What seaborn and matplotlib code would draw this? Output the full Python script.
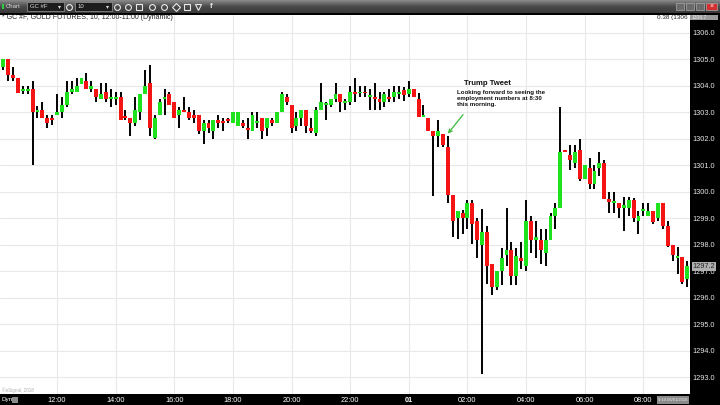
import numpy as np
import pandas as pd
import matplotlib
matplotlib.use("Agg")
import matplotlib.pyplot as plt
import matplotlib.transforms as mtransforms
from matplotlib.colors import LinearSegmentedColormap
from matplotlib.patches import Rectangle
import seaborn as sns

# 10-minute GC #F bars, 10:10 -> 09:30 next day
opens = [
    1304.7, 1305.0, 1304.41, 1304.31, 1303.82, 1303.82, 1303.89, 1303.0, 1303.1, 1302.81,
    1302.8, 1302.9, 1303.0, 1303.29, 1303.79, 1303.79, 1304.07, 1304.19, 1303.89, 1303.89,
    1303.5, 1303.79, 1303.5, 1303.5, 1303.6, 1302.82, 1302.81, 1302.6, 1303.0, 1303.7,
    1304.1, 1302.04, 1302.9, 1303.5, 1303.7, 1303.39, 1302.9, 1303.1, 1303.0, 1302.9,
    1302.9, 1302.31, 1302.6, 1302.31, 1302.7, 1302.62, 1302.7, 1302.6, 1302.5, 1302.6,
    1302.41, 1302.31, 1302.6, 1302.8, 1302.41, 1302.7, 1302.6, 1303.0, 1303.6, 1303.29,
    1302.5, 1302.8, 1303.1, 1302.4, 1302.22, 1303.1, 1303.3, 1303.29, 1303.5, 1303.7,
    1303.35, 1303.39, 1303.79, 1303.72, 1303.74, 1303.6, 1303.6, 1303.5, 1303.39, 1303.57,
    1303.6, 1303.7, 1303.85, 1303.69, 1303.87, 1303.5, 1302.82, 1302.79, 1302.31, 1302.12,
    1302.2, 1301.7, 1299.9, 1299.0, 1299.19, 1299.0, 1299.6, 1298.91, 1298.01, 1298.5,
    1297.29, 1296.41, 1297.0, 1297.62, 1297.81, 1296.83, 1297.5, 1297.2, 1298.91, 1298.2,
    1298.2, 1297.7, 1298.2, 1299.1, 1299.41, 1301.6, 1301.4, 1301.1, 1301.6, 1300.5,
    1300.91, 1300.31, 1300.91, 1301.1, 1299.72, 1299.6, 1299.6, 1299.41, 1299.41, 1299.69,
    1298.91, 1299.28, 1299.1, 1299.29, 1299.0, 1299.6, 1298.7, 1298.0, 1297.5, 1297.54,
    1296.7,
]
highs = [
    1305.0, 1305.0, 1304.7, 1304.31, 1304.0, 1304.0, 1304.2, 1303.25, 1303.39, 1302.9,
    1302.9, 1303.7, 1303.57, 1304.19, 1304.19, 1304.29, 1304.29, 1304.5, 1304.19, 1303.89,
    1304.1, 1304.1, 1303.89, 1303.79, 1303.79, 1303.1, 1302.81, 1303.6, 1303.7, 1304.6,
    1304.79, 1302.9, 1303.5, 1303.89, 1303.79, 1303.39, 1303.2, 1303.6, 1303.2, 1303.1,
    1302.9, 1302.7, 1302.7, 1302.7, 1302.9, 1302.8, 1302.8, 1303.0, 1303.0, 1302.7,
    1302.79, 1303.0, 1303.0, 1302.8, 1302.8, 1302.8, 1303.0, 1303.79, 1303.7, 1303.29,
    1303.0, 1303.1, 1303.1, 1302.8, 1303.2, 1304.1, 1303.39, 1303.5, 1304.1, 1303.7,
    1303.5, 1304.0, 1304.29, 1304.0, 1304.0, 1303.89, 1304.1, 1303.79, 1303.79, 1303.89,
    1304.0, 1304.0, 1303.95, 1304.2, 1303.9, 1303.72, 1303.29, 1302.79, 1302.31, 1302.7,
    1302.2, 1302.1, 1299.9, 1299.29, 1299.32, 1299.7, 1299.7, 1299.0, 1299.37, 1298.7,
    1297.29, 1297.0, 1297.9, 1299.4, 1298.1, 1297.9, 1298.1, 1299.7, 1299.1, 1298.91,
    1298.6, 1298.6, 1299.2, 1299.6, 1303.2, 1301.6, 1301.79, 1301.79, 1302.0, 1301.0,
    1301.29, 1301.0, 1301.5, 1301.2, 1300.0, 1300.0, 1299.6, 1299.81, 1299.81, 1299.79,
    1299.29, 1299.6, 1299.6, 1299.29, 1299.6, 1299.6, 1298.91, 1298.0, 1297.91, 1297.54,
    1297.41,
]
lows = [
    1304.62, 1304.2, 1304.2, 1303.72, 1303.7, 1303.7, 1301.0, 1302.81, 1302.81, 1302.41,
    1302.51, 1302.9, 1302.81, 1303.2, 1303.7, 1303.79, 1304.07, 1303.89, 1303.79, 1303.39,
    1303.5, 1303.39, 1303.2, 1303.29, 1302.7, 1302.7, 1302.1, 1302.5, 1302.7, 1303.7,
    1302.1, 1302.0, 1302.9, 1302.9, 1303.29, 1302.8, 1302.41, 1303.0, 1302.7, 1302.6,
    1302.2, 1301.81, 1302.22, 1302.0, 1302.41, 1302.31, 1302.6, 1302.6, 1302.5, 1302.41,
    1302.0, 1302.31, 1302.4, 1302.0, 1302.1, 1302.5, 1302.6, 1303.0, 1303.29, 1302.22,
    1302.31, 1302.5, 1302.22, 1302.22, 1302.1, 1303.1, 1302.7, 1303.2, 1303.39, 1303.0,
    1303.1, 1303.29, 1303.39, 1303.6, 1303.6, 1303.1, 1303.1, 1303.1, 1303.2, 1303.39,
    1303.39, 1303.5, 1303.45, 1303.6, 1303.6, 1302.82, 1302.82, 1302.29, 1299.86, 1301.7,
    1301.7, 1299.6, 1298.3, 1298.22, 1298.41, 1298.6, 1298.04, 1297.51, 1293.12, 1296.54,
    1296.12, 1296.32, 1296.5, 1297.2, 1296.5, 1296.5, 1297.1, 1297.0, 1297.7, 1297.5,
    1297.3, 1297.2, 1298.2, 1298.6, 1299.41, 1301.5, 1300.83, 1300.91, 1300.41, 1300.5,
    1300.12, 1300.12, 1300.62, 1299.72, 1299.22, 1299.22, 1299.0, 1298.54, 1299.1, 1298.85,
    1298.41, 1299.1, 1299.1, 1298.79, 1298.91, 1298.6, 1297.91, 1297.41, 1296.91, 1296.54,
    1296.41,
]
closes = [
    1305.0, 1304.41, 1304.31, 1303.72, 1303.89, 1303.89, 1303.0, 1303.1, 1302.81, 1302.62,
    1302.7, 1303.0, 1303.29, 1303.79, 1303.89, 1304.0, 1304.29, 1303.89, 1304.0, 1303.6,
    1303.7, 1303.5, 1303.57, 1303.57, 1302.72, 1302.8, 1302.6, 1303.1, 1303.7, 1304.0,
    1302.41, 1302.79, 1303.39, 1303.6, 1303.29, 1302.8, 1303.1, 1303.0, 1302.8, 1302.8,
    1302.31, 1302.6, 1302.41, 1302.7, 1302.6, 1302.6, 1302.68, 1303.0, 1303.0, 1302.5,
    1302.35, 1302.9, 1302.62, 1302.31, 1302.8, 1302.6, 1303.0, 1303.7, 1303.39, 1302.41,
    1302.8, 1303.1, 1302.5, 1302.31, 1303.1, 1303.39, 1303.32, 1303.5, 1303.7, 1303.39,
    1303.38, 1303.79, 1303.7, 1303.74, 1303.72, 1303.62, 1303.5, 1303.39, 1303.7, 1303.5,
    1303.79, 1303.79, 1303.65, 1303.87, 1303.6, 1302.82, 1302.91, 1302.29, 1302.12, 1302.31,
    1301.79, 1299.9, 1298.9, 1299.29, 1299.0, 1299.6, 1298.81, 1298.2, 1298.5, 1297.2,
    1296.41, 1297.0, 1297.5, 1297.81, 1296.83, 1297.6, 1297.41, 1298.91, 1298.2, 1298.31,
    1297.81, 1298.2, 1299.1, 1299.4, 1301.5, 1301.5, 1301.2, 1301.5, 1300.5, 1301.0,
    1300.31, 1300.79, 1301.1, 1299.72, 1299.62, 1299.62, 1299.41, 1299.5, 1299.69, 1299.0,
    1299.1, 1299.3, 1299.29, 1298.87, 1299.6, 1298.7, 1297.97, 1297.62, 1297.6, 1296.62,
    1297.2,
]

time_tick_bars = [11, 23, 35, 47, 59, 71, 83, 95, 107, 119, 131]
time_tick_labels = ["12:00", "14:00", "16:00", "18:00", "20:00", "22:00",
                    "01", "02:00", "04:00", "06:00", "08:00"]
price_ticks = [1293, 1294, 1295, 1296, 1297, 1298, 1299, 1300,
               1301, 1302, 1303, 1304, 1305, 1306]
last_price = 1297.2

tweet_title = "Trump Tweet"
tweet_text = "Looking forward to seeing the\nemployment numbers at 8:30\nthis morning."
tweet_bar, tweet_price = 91, 1302.2

sns.set_theme(style="white")
plt.rcParams["font.family"] = ["Liberation Sans", "DejaVu Sans"]

df = pd.DataFrame({"open": opens, "high": highs, "low": lows, "close": closes})
df["bar"] = np.arange(len(df))
df["up"] = df["close"] >= df["open"]
df["body_lo"] = df[["open", "close"]].min(axis=1)
df["body_h"] = (df["close"] - df["open"]).abs().clip(lower=0.07)

W, H = 720, 405
fig = plt.figure(figsize=(7.2, 4.05), dpi=100, facecolor="black")


def px_box(x0, y0, x1, y1):
    return [x0 / W, 1 - y1 / H, (x1 - x0) / W, (y1 - y0) / H]


# --- main price panel
ax = fig.add_axes(px_box(0, 15, 690, 394))
ax.set_facecolor("white")
ax.vlines(df["bar"], df["low"], df["high"], color="black", lw=1.4, zorder=2)
ax.bar(df["bar"], df["body_h"], bottom=df["body_lo"], width=0.8,
       color=np.where(df["up"], "#1fe21f", "#f41414"), linewidth=0, zorder=3)

ax.set_xlim(-0.675, 140.55)
ax.set_ylim(1292.377, 1306.679)
ax.set_xticks(time_tick_bars)
ax.set_xticklabels(time_tick_labels)
for lab in ax.get_xticklabels():
    if lab.get_text() == "01":
        lab.set_fontweight("bold")
ax.set_yticks(price_ticks)
ax.set_yticklabels([f"{p:.1f}" for p in price_ticks])
ax.yaxis.tick_right()
ax.tick_params(axis="x", length=0, pad=2.2, labelsize=5.3, labelcolor="white")
ax.tick_params(axis="y", length=0, pad=1.5, labelsize=5.3, labelcolor="#e6e6e6")
ax.grid(True, color="#e8e8e8", lw=0.8)
ax.set_axisbelow(True)
for s in ax.spines.values():
    s.set_visible(False)

# tweet annotation
ax.annotate("", xy=(tweet_bar, tweet_price), xytext=(tweet_bar + 3.1, tweet_price + 0.72),
            arrowprops=dict(arrowstyle="->", color="#3cb83c", lw=0.9,
                            shrinkA=0, shrinkB=0, mutation_scale=6), zorder=5)
ax.text(99.0, 1304.08, tweet_title, fontsize=5.6, fontweight="bold",
        color="#111111", ha="center", va="center", zorder=5)
ax.text(92.85, 1303.84, tweet_text, fontsize=4.4, fontweight="bold",
        color="#111111", ha="left", va="top", linespacing=1.25, zorder=5)

# last price tag on the right scale
trans = mtransforms.blended_transform_factory(ax.transAxes, ax.transData)
ax.text(1.004, last_price, f"{last_price:.1f}", transform=trans, fontsize=5.3,
        color="#222222", ha="left", va="center", clip_on=False, zorder=6,
        bbox=dict(boxstyle="square,pad=0.15", fc="#b0b0b0", ec="none"))

# header / footer text inside the chart
fig.text(2 / W, 1 - 17.5 / H, "* GC #F, GOLD FUTURES, 10, 12:00-11:00 (Dynamic)",
         fontsize=5.0, color="#222222", va="center", ha="left")
fig.text(688 / W, 1 - 17.5 / H, "0.38 (1306", fontsize=4.6, color="#222222",
         va="center", ha="right")
fig.text(2 / W, 1 - 390 / H, "©eSignal, 2018", fontsize=3.3, color="#b0b0b0",
         va="center", ha="left")

# --- toolbar
tb = fig.add_axes(px_box(0, 0, 720, 13))
grad = LinearSegmentedColormap.from_list("tb", ["#8a8a8a", "#4a4a4a", "#3a3a3a"])
tb.imshow(np.linspace(0, 1, 30).reshape(-1, 1), aspect="auto", cmap=grad,
          extent=[0, 720, 13, 0])
tb.set_xlim(0, 720)
tb.set_ylim(13, 0)
tb.axis("off")
tb.add_patch(Rectangle((1.5, 4), 2, 5, fc="#2ecc40", ec="none"))
tb.text(6, 6.8, "Chart", fontsize=4.3, color="#dddddd", va="center")
for x0, label in [(27, "GC #F"), (75, "10")]:
    tb.add_patch(Rectangle((x0, 2), 37, 9, fc="#1c1c1c", ec="#999999", lw=0.5))
    tb.text(x0 + 3, 6.6, label, fontsize=4.3, color="#dddddd", va="center")
    tb.text(x0 + 32, 6.6, "▾", fontsize=4.3, color="#dddddd", va="center", ha="center")
for xi, m in zip([69, 117, 128, 139, 152, 164, 176, 187, 198],
                 ["o", "o", "o", "s", "o", "o", "D", "s", "v"]):
    tb.plot(xi, 6.5, marker=m, ms=4.2, mfc="none", mec="#e8e8e8", mew=0.8)
tb.text(210, 6.6, "f", fontsize=5.5, color="#e8e8e8", va="center", fontweight="bold")
for xb in [676, 686, 696]:
    tb.add_patch(Rectangle((xb, 2.5), 8, 7, fc="#6a6a6a", ec="#aaaaaa", lw=0.5))
tb.add_patch(Rectangle((706, 2.5), 11, 7, fc="#d23030", ec="#aaaaaa", lw=0.5))
tb.text(711.5, 6.2, "×", fontsize=5, color="white", ha="center", va="center")

# right scale top box and footer widgets
fig.patches.append(Rectangle((690 / W, 1 - 20 / H), 28 / W, 5 / H, transform=fig.transFigure,
                             fc="#9a9a9a", ec="none", zorder=5))
fig.text(692 / W, 1 - 17.5 / H, "1306.7", fontsize=3.6, color="#eeeeee",
         va="center", ha="left", zorder=6)
fig.text(2 / W, 1 - 400 / H, "Dyn", fontsize=4.6, color="white", va="center", ha="left")
fig.patches.append(Rectangle((12 / W, 1 - 403 / H), 6 / W, 6 / H, transform=fig.transFigure,
                             fc="#8a8a8a", ec="none", zorder=5))
fig.patches.append(Rectangle((657 / W, 1 - 404 / H), 32 / W, 8 / H, transform=fig.transFigure,
                             fc="#8a8a8a", ec="none", zorder=5))
fig.text(673 / W, 1 - 400 / H, "9:10 06/01/2018", fontsize=3.0, color="#f0f0f0",
         va="center", ha="center", zorder=6)

fig.savefig("out.png", dpi=100, facecolor="black")
